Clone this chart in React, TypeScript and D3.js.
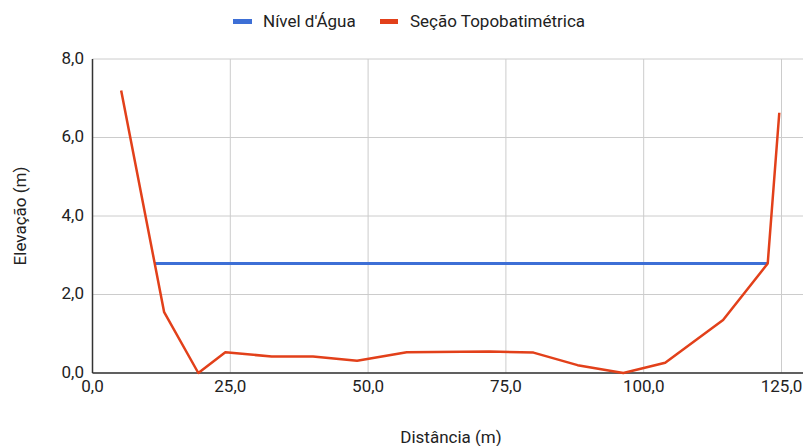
import React from "react";
import * as d3 from "d3";

const sectionX = [5.2, 13.0, 19.2, 24.1, 32.5, 40.0, 48.0, 57.0, 72.0, 80.0, 88.0, 96.3, 103.9, 114.4, 122.5, 124.6];
const sectionY = [7.2, 1.55, 0.0, 0.53, 0.42, 0.42, 0.31, 0.53, 0.55, 0.52, 0.2, 0.0, 0.26, 1.35, 2.79, 6.63];
const waterX = [11.3, 122.5];
const waterY = [2.79, 2.79];
const xTicks = [0, 25, 50, 75, 100, 125];
const yTicks = [0, 2, 4, 6, 8];
const seriesNames = ["Nível d'Água", "Seção Topobatimétrica"];
const colors = ["#3d6fd6", "#e2401a"];

const W = 803, H = 446;
const L = 92.5, R = 803, T = 59, B = 373;

export default function App() {
  const x = d3.scaleLinear().domain([0, (R - L) / 5.512]).range([L, R]);
  const y = d3.scaleLinear().domain([0, 8]).range([B, T]);
  const line = d3.line<[number, number]>().x(d => x(d[0])).y(d => y(d[1]));
  const sec = sectionX.map((v, i) => [v, sectionY[i]] as [number, number]);
  const wat = waterX.map((v, i) => [v, waterY[i]] as [number, number]);
  const fmt = (v: number) => v.toFixed(1).replace(".", ",");
  const font = "Roboto, 'Noto Sans', sans-serif";
  const fs = 17;
  return (
    <svg width={W} height={H} style={{ position: "absolute", left: 0, top: 0, background: "#fff" }} fontFamily={font}>
      {yTicks.map(t => (
        <line key={"gy" + t} x1={L} x2={R} y1={y(t)} y2={y(t)} stroke="#cccccc" strokeWidth={1} />
      ))}
      {xTicks.map(t => (
        <line key={"gx" + t} x1={x(t)} x2={x(t)} y1={T} y2={B} stroke="#cccccc" strokeWidth={1} />
      ))}
      <line x1={L} x2={L} y1={T} y2={B} stroke="#333" strokeWidth={1.5} />
      <line x1={L} x2={R} y1={B} y2={B} stroke="#333" strokeWidth={1.5} />
      {yTicks.map(t => (
        <text key={"ly" + t} x={84} y={y(t) - 1} dy="0.35em" textAnchor="end" fontSize={fs} fill="#222">{fmt(t)}</text>
      ))}
      {xTicks.map(t => (
        <text key={"lx" + t} x={x(t)} y={392} textAnchor="middle" fontSize={fs} fill="#222">{fmt(t)}</text>
      ))}
      <text x={451} y={443} textAnchor="middle" fontSize={fs} fill="#222">Distância (m)</text>
      <text transform="translate(26,216) rotate(-90)" textAnchor="middle" fontSize={fs} fill="#222">Elevação (m)</text>
      <path d={line(wat) || ""} fill="none" stroke={colors[0]} strokeWidth={3} />
      <path d={line(sec) || ""} fill="none" stroke={colors[1]} strokeWidth={2.5} strokeLinejoin="round" />
      <rect x={233} y={19} width={19} height={5} fill={colors[0]} />
      <text x={263} y={27} fontSize={fs} fill="#222">{seriesNames[0]}</text>
      <rect x={380} y={19} width={18} height={5} fill={colors[1]} />
      <text x={410} y={27} fontSize={fs} fill="#222">{seriesNames[1]}</text>
    </svg>
  );
}
